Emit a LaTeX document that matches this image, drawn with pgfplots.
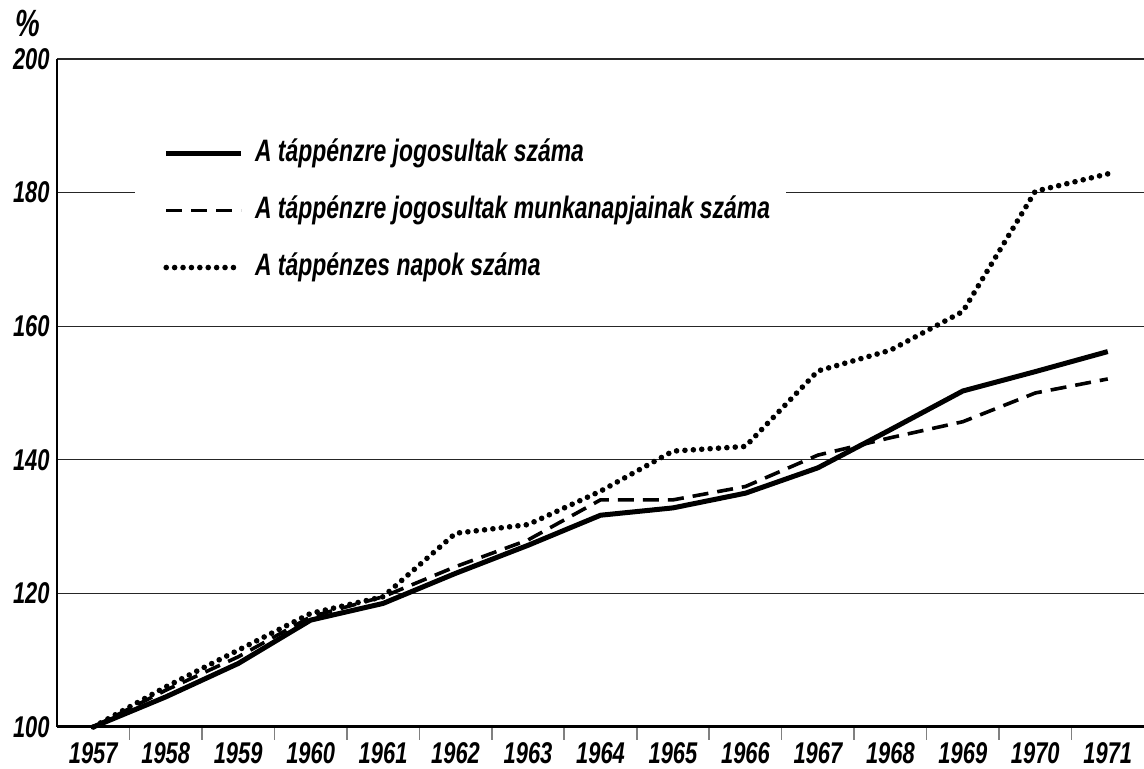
\documentclass[border=0pt]{standalone}
\usepackage{fontspec}
\setmainfont{Liberation Sans}[FakeStretch=0.74]
\newfontfamily\tickfamily{Liberation Sans}[FakeStretch=0.73]
\usepackage{pgfplots}
\pgfplotsset{compat=1.18}
\newcommand\ff{\fontsize{15.5pt}{18pt}\selectfont\bfseries\itshape}
\newcommand\tf{\tickfamily\fontsize{15pt}{17pt}\selectfont\bfseries\itshape}
\begin{document}
\begin{tikzpicture}
\begin{axis}[
  at={(0,0)}, anchor=south west,
  scale only axis, width=543.5pt, height=334pt,
  xmin=-0.5, xmax=14.5, ymin=100, ymax=200,
  axis x line*=bottom, axis y line*=left,
  x axis line style={line width=1.5pt},
  y axis line style={line width=1pt},
  xtick={0,...,14},
  xticklabels={1957,1958,1959,1960,1961,1962,1963,1964,1965,1966,1967,1968,1969,1970,1971},
  minor xtick={0.5,1.5,...,13.5},
  major tick length=0pt, minor tick length=6.5pt,
  xtick align=outside,
  minor x tick style={line width=0.8pt},
  ytick={100,120,...,200},
  yticklabels={100,120,140,160,180,200},
  ytick style={draw=none},
  ymajorgrids, major grid style={black!85, line width=0.6pt},
  tick label style={font=\tf},
  xticklabel style={anchor=north, inner sep=0pt, yshift=-7.5pt},
  yticklabel style={anchor=east, inner sep=0pt, xshift=-3.5pt},
  clip=false,
  legend style={at={(0.0718,0.898)}, anchor=north west, fill=white, draw=none,
    font=\ff, inner xsep=6pt, inner ysep=4pt, row sep=10.5pt,
    nodes={inner sep=2pt, text height=11pt, text depth=3pt}},
  legend cell align=left,
  legend image code/.code={\path (0pt,0pt) (49pt,0pt); \draw[#1] (8pt,0pt) -- (45.5pt,0pt);},
]
\addplot[black, line width=2.5pt, line join=round] coordinates {
(0,100) (1,104.5) (2,109.5) (3,116) (4,118.5) (5,123) (6,127.2) (7,131.7)
(8,132.8) (9,135) (10,138.8) (11,144.5) (12,150.3) (13,153.2) (14,156.2)};
\addlegendentry{A táppénzre jogosultak száma}
\addplot[black, line width=1.8pt, dash pattern=on 8pt off 4.5pt] coordinates {
(0,100) (1,105.5) (2,110.5) (3,116.5) (4,119.5) (5,124) (6,128) (7,134)
(8,134) (9,136) (10,140.7) (11,143.3) (12,145.7) (13,150) (14,152.1)};
\addlegendentry{A táppénzre jogosultak munkanapjainak száma}
\addplot[black, line width=2.8pt, line cap=round, dash pattern=on 0pt off 4.2pt] coordinates {
(0,100) (1,106) (2,111.5) (3,117) (4,119.5) (5,129) (6,130.3) (7,135.3)
(8,141.3) (9,142) (10,153.3) (11,156.4) (12,162.2) (13,180.2) (14,182.8)};
\addlegendentry{A táppénzes napok száma}
\end{axis}
\node[font=\tf\fontsize{19pt}{21pt}\selectfont] at (-14.5pt,352pt) {\%};
\pgfresetboundingbox
\path (-28.5pt,-21pt) rectangle (543.5pt,363.5pt);
\end{tikzpicture}
\end{document}
